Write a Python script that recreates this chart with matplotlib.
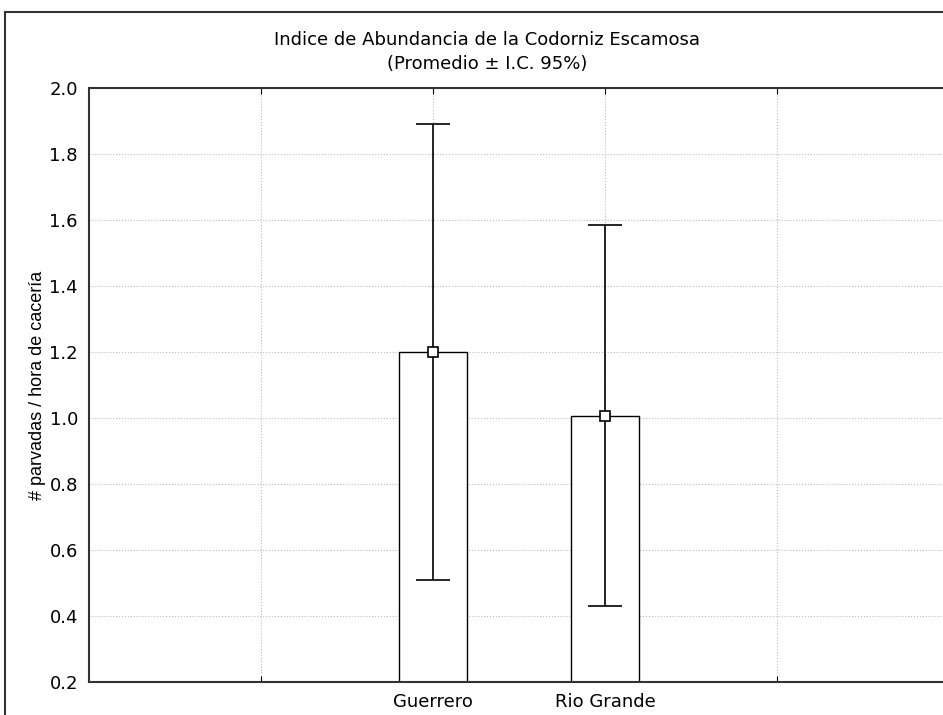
import matplotlib.pyplot as plt
import numpy as np

plt.rcParams['font.family'] = ['DejaVu Sans']

# values
sitios = ['Guerrero', 'Rio Grande']
promedio = [1.20, 1.005]
ic_inf = [0.51, 0.43]
ic_sup = [1.89, 1.585]
pos = [2, 3]

fig = plt.figure(figsize=(9.43, 7.15), dpi=100)
ax = fig.add_axes([89/943, 33/715, 860/943, 594/715])

# outer frame (only left and top edge visible in the crop)
fig.add_artist(plt.Line2D([5/943, 5/943], [0, 1 - 12/715], color='#333333', lw=1.5))
fig.add_artist(plt.Line2D([5/943, 1.01], [1 - 12/715, 1 - 12/715], color='#333333', lw=1.5))

ax.bar(pos, promedio, width=0.4, bottom=0, color='white', edgecolor='black', lw=1, zorder=2)
err = [np.array(promedio) - np.array(ic_inf), np.array(ic_sup) - np.array(promedio)]
ax.errorbar(pos, promedio, yerr=err, fmt='s', color='black', mfc='white', mec='black',
            ms=7, mew=1.2, capsize=12.5, elinewidth=1.2, capthick=1.2, zorder=3)

ax.set_xlim(0, 5)
ax.set_ylim(0.2, 2.0)
ax.set_yticks(np.arange(0.2, 2.01, 0.2))
ax.set_yticklabels(['%.1f' % v for v in np.arange(0.2, 2.01, 0.2)])
ax.set_xticks([1, 2, 3, 4])
ax.set_xticklabels(['', sitios[0], sitios[1], ''])
ax.grid(True, ls=':', color='#bbbbbb', lw=0.8, zorder=0)
ax.set_axisbelow(True)
ax.tick_params(axis='x', direction='in', top=True, length=4, pad=8, labelsize=13)
ax.tick_params(axis='y', direction='in', length=0, pad=8, labelsize=13)
for s in ax.spines.values():
    s.set_color('#333333')
    s.set_linewidth(1.5)

ax.set_ylabel('# parvadas / hora de cacería', fontsize=13, family='Liberation Sans')
ax.yaxis.set_label_coords(-0.05, 0.5)

fig.text(487/943, 1 - 40/715, 'Indice de Abundancia de la Codorniz Escamosa', ha='center', va='center', fontsize=13)
fig.text(487/943, 1 - 64/715, '(Promedio ± I.C. 95%)', ha='center', va='center', fontsize=13)

fig.savefig('out.png', dpi=100)
